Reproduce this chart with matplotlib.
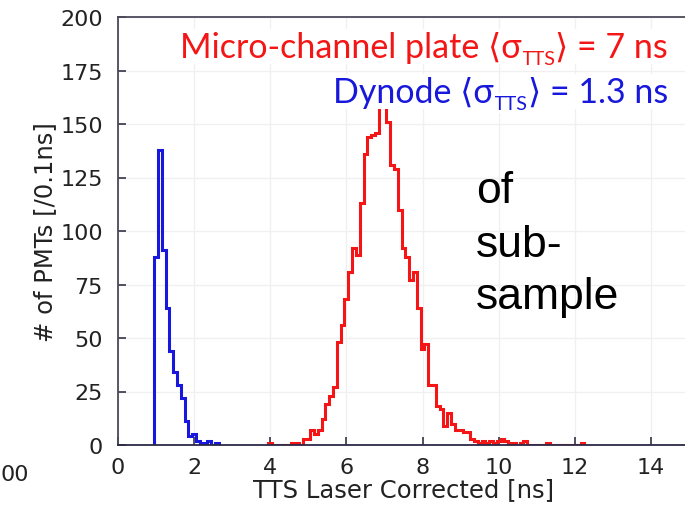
import numpy as np
import matplotlib
matplotlib.use('Agg')
import matplotlib.pyplot as plt

# histogram contents, 0.1 ns bins
bin_width = 0.1
dynode_first = 1.0
dynode_counts = [88, 138, 91, 64, 44, 34, 28, 22, 11, 4,
                 5, 2, 1, 0, 2, 0, 1]
mcp_first = 4.0
mcp_counts = [1, 0, 0, 0, 0, 0, 1, 1, 0, 3,
              3, 7, 5, 7, 12, 19, 23, 27, 48, 56,
              68, 81, 92, 89, 113, 136, 144, 145, 146, 158,
              159, 151, 131, 129, 110, 92, 88, 77, 81, 64,
              45, 47, 28, 28, 18, 17, 9, 15, 10, 7,
              7, 6, 6, 3, 2, 1, 2, 1, 2, 1,
              2, 3, 2, 1, 1, 0, 1, 2, 0, 0,
              0, 0, 0, 1, 0, 0, 0, 0, 0, 0,
              0, 0, 1]

x_ticks = [0, 2, 4, 6, 8, 10, 12, 14]
y_ticks = [0, 25, 50, 75, 100, 125, 150, 175, 200]

RED = '#f41616'
BLUE = '#1818dc'
LEG_FONT = ['Lato', 'DejaVu Sans']

plt.rcParams['font.family'] = ['DejaVu Sans']


def edges_for(first, counts):
    # bins centred on the 0.1 ns grid
    n = len(counts)
    return first - bin_width / 2 + bin_width * np.arange(n + 1)


def label(ax, y, main, sub, tail, color, fs):
    # right-aligned line, built right to left so the subscript sits in place
    box = dict(facecolor='white', edgecolor='none', pad=1)
    t3 = ax.text(14.45, y, tail, color=color, fontsize=fs, family=LEG_FONT,
                 ha='right', va='baseline', bbox=box, zorder=5)
    t2 = ax.annotate(sub, xy=(0, 0), xycoords=t3, xytext=(0, -3),
                     textcoords='offset points', ha='right', va='bottom',
                     color=color, fontsize=fs * 0.58, family=LEG_FONT,
                     bbox=box, zorder=5)
    ax.annotate(main, xy=(0, 0), xycoords=t2, xytext=(0, 3),
                textcoords='offset points', ha='right', va='bottom',
                color=color, fontsize=fs, family=LEG_FONT,
                bbox=box, zorder=5)


fig = plt.figure(figsize=(6.85, 5.10), dpi=100)
ax = fig.add_axes([118 / 685, 1 - 446 / 510, (689 - 118) / 685, (446 - 18) / 510])

ax.stairs(dynode_counts, edges_for(dynode_first, dynode_counts),
          color=BLUE, lw=2.2, zorder=2)
ax.stairs(mcp_counts, edges_for(mcp_first, mcp_counts),
          color=RED, lw=2.2, zorder=2)

ax.set_xlim(0, 15)
ax.set_ylim(0, 200)
ax.set_xticks(x_ticks)
ax.set_yticks(y_ticks)
ax.grid(True, color='#f0f0f0', lw=1.0, zorder=0)
ax.set_axisbelow(True)

for s in ax.spines.values():
    s.set_color('#4a4a5a')
    s.set_linewidth(1.3)
    s.set_zorder(3)
ax.spines['bottom'].set_color('#2a2a48')

ax.tick_params(direction='in', length=6, width=1.2, color='#333344',
               labelsize=16, labelcolor='#222222')
ax.tick_params(axis='x', pad=9)
ax.tick_params(axis='y', pad=11)

ax.set_xlabel('TTS Laser Corrected [ns]', fontsize=17.5, color='#222222', labelpad=0)
ax.set_ylabel('# of PMTs [/0.1ns]', fontsize=17.5, color='#222222', labelpad=2)

label(ax, 181.5, 'Micro-channel plate \u27e8\u03c3', 'TTS', '\u27e9 = 7 ns', RED, 24.5)
label(ax, 160.5, 'Dynode \u27e8\u03c3', 'TTS', '\u27e9 = 1.3 ns', BLUE, 24.5)

for word, yv in [('of', 113.6), ('sub-', 88.5), ('sample', 64.0)]:
    ax.text(9.4, yv, word, fontsize=32, family='Liberation Sans',
            color='black', ha='left', va='baseline', zorder=5)

# tick label of the neighbouring panel, at the left edge
fig.text(1 / 685, 1 - 475 / 510, '00', fontsize=16, color='#222222',
         ha='left', va='center')

fig.savefig('out.png', dpi=100)
